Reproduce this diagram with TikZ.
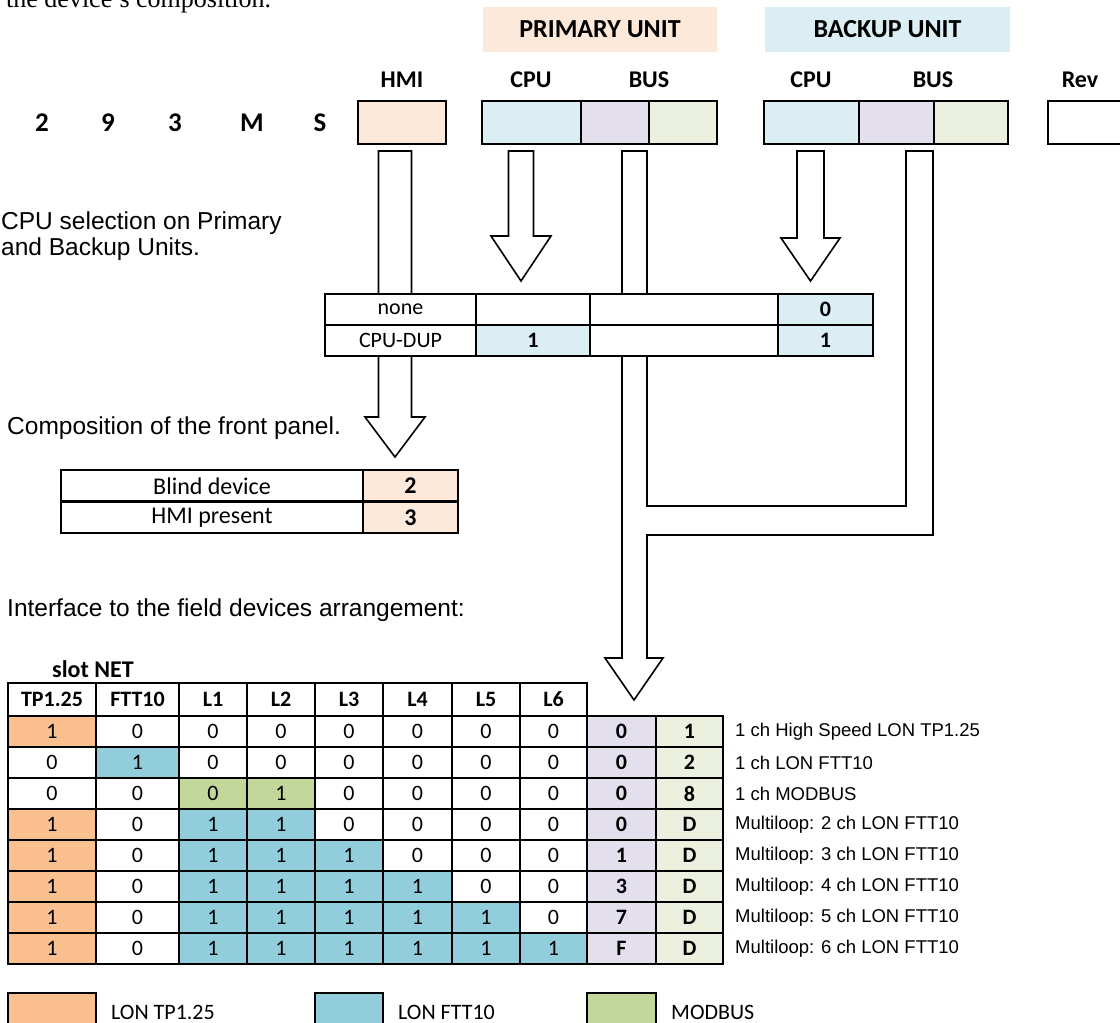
\documentclass[tikz,border=0pt]{standalone}
\usepackage{fontspec}
\setmainfont{Carlito}
\newfontfamily\arialfont{Liberation Sans}
\newfontfamily\timesfont{Liberation Serif}
\usepackage{tikz}
\usetikzlibrary{positioning}
\definecolor{hmipeach}{RGB}{253,233,217}
\definecolor{cpublue}{RGB}{218,238,243}
\definecolor{buslilac}{RGB}{228,223,236}
\definecolor{busgreen}{RGB}{235,241,222}
\definecolor{lontp}{RGB}{250,192,144}
\definecolor{lonftt}{RGB}{146,205,220}
\definecolor{modbus}{RGB}{196,215,155}

\begin{document}
\begin{tikzpicture}[x=1pt, y=-1pt,
  cell/.style={draw, line width=2.7pt, inner sep=0pt, outer sep=0pt, anchor=north west, font=\fontsize{22}{26}\selectfont},
  bigcell/.style={cell, font=\fontsize{24}{28}\selectfont},
  unitbox/.style={inner sep=0pt, minimum height=45, font=\fontsize{26}{30}\selectfont\bfseries},
  collabel/.style={font=\fontsize{24}{28}\selectfont\bfseries},
  codechar/.style={font=\fontsize{27}{32}\selectfont\bfseries},
  note/.style={anchor=west, inner sep=0pt, align=left, font=\arialfont\fontsize{24.5}{26}\selectfont},
  rowlabel/.style={anchor=west, inner sep=0pt, font=\arialfont\fontsize{18.5}{22}\selectfont},
  blockarrow/.style={draw, fill=white, line width=1.6pt, line join=miter}]
\useasboundingbox (0,0) rectangle (1120,1023);

\node[anchor=base west, inner sep=0pt, font=\timesfont\fontsize{26}{30}\selectfont] (intro) at (6,7) {the device’s composition.};

% unit headers
\node[unitbox, fill=hmipeach, minimum width=234] (primary) at (600,29.5) {PRIMARY UNIT};
\node[unitbox, fill=cpublue, minimum width=245] (backup) at (887.5,29.5) {BACKUP UNIT};

\node[collabel] (hmi-lbl) at (402,80) {HMI};
\node[collabel] (pcpu-lbl) at (531,80) {CPU};
\node[collabel] (pbus-lbl) at (649,80) {BUS};
\node[collabel] (bcpu-lbl) at (811,80) {CPU};
\node[collabel] (bbus-lbl) at (933,80) {BUS};
\node[collabel] (rev-lbl) at (1080,80) {Rev};

% code fields
\foreach \ch/\x in {2/42,9/108,3/175,M/252,S/320}
  \node[codechar] (code-\ch) at (\x,123) {\ch};
\node[cell, fill=hmipeach, minimum width=88, minimum height=43] (hmi) at (358,101) {};
\node[cell, fill=cpublue, minimum width=99, minimum height=43] (pcpu) at (482,101) {};
\node[cell, fill=buslilac, minimum width=68, minimum height=43] (pbus1) at (581,101) {};
\node[cell, fill=busgreen, minimum width=68, minimum height=43] (pbus2) at (649,101) {};
\node[cell, fill=cpublue, minimum width=95, minimum height=43] (bcpu) at (764,101) {};
\node[cell, fill=buslilac, minimum width=75, minimum height=43] (bbus1) at (859,101) {};
\node[cell, fill=busgreen, minimum width=74, minimum height=43] (bbus2) at (934,101) {};
\node[cell, minimum width=90, minimum height=43] (rev) at (1048,101) {};

% block arrows
\draw[blockarrow] (378.5,151) -- (411.5,151) -- (411.5,417) -- (425,417) -- (395,457)
  -- (365,417) -- (378.5,417) -- cycle;
\draw[blockarrow] (508.5,151) -- (533.5,151) -- (533.5,236) -- (551,236) -- (521,281)
  -- (491,236) -- (508.5,236) -- cycle;
\draw[blockarrow] (797,151) -- (824,151) -- (824,238) -- (840,238) -- (810.5,281)
  -- (781,238) -- (797,238) -- cycle;
\draw[blockarrow] (622,151) -- (647,151) -- (647,506) -- (906,506) -- (906,151)
  -- (933,151) -- (933,535) -- (647,535) -- (647,658) -- (663,658) -- (634,700)
  -- (605,658) -- (622,658) -- cycle;

% CPU selection
\node[note] (cpu-note) at (1,236) {CPU selection on Primary\\and Backup Units.};
\node[cell, fill=white, minimum width=151, minimum height=31] (cpu-none) at (325,294) {none};
\node[cell, fill=white, minimum width=114, minimum height=31] (cpu-none-p) at (476,294) {};
\node[cell, fill=white, minimum width=188, minimum height=31] (cpu-none-x) at (590,294) {};
\node[cell, fill=cpublue, minimum width=95, minimum height=31] (cpu-none-b) at (778,294) {\bfseries 0};
\node[cell, fill=white, minimum width=151, minimum height=31] (cpu-dup) at (325,325) {CPU-DUP};
\node[cell, fill=cpublue, minimum width=114, minimum height=31] (cpu-dup-p) at (476,325) {\bfseries 1};
\node[cell, fill=white, minimum width=188, minimum height=31] (cpu-dup-x) at (590,325) {};
\node[cell, fill=cpublue, minimum width=95, minimum height=31] (cpu-dup-b) at (778,325) {\bfseries 1};

% front panel
\node[note] (panel-note) at (7,428) {Composition of the front panel.};
\node[bigcell, fill=white, minimum width=302, minimum height=31.5] (blind) at (61,470) {Blind device};
\node[bigcell, fill=hmipeach, minimum width=95, minimum height=31.5] (blind-v) at (363,470) {\bfseries 2};
\node[bigcell, fill=white, minimum width=302, minimum height=31.5] (hmipres) at (61,501.5) {HMI present};
\node[bigcell, fill=hmipeach, minimum width=95, minimum height=31.5] (hmipres-v) at (363,501.5) {\bfseries 3};

% field interfaces
\node[note] (field-note) at (7,610) {Interface to the field devices arrangement:};
\node[font=\fontsize{24}{28}\selectfont\bfseries] (slot-lbl) at (93,669) {slot NET};
\def\slotx{{8,96,179,247,315,383,452,520,587,656,723}}
\foreach \h [count=\k] in {TP1.25,FTT10,L1,L2,L3,L4,L5,L6} {
  \pgfmathsetmacro\xa{\slotx[\k-1]}
  \pgfmathsetmacro\xb{\slotx[\k]}
  \node[cell, minimum width={\xb-\xa}, minimum height=33] (head-\k) at (\xa,683) {\bfseries\h};
}
\foreach \row [count=\r] in {
  {1/lontp,0/white,0/white,0/white,0/white,0/white,0/white,0/white,0/buslilac,1/busgreen},
  {0/white,1/lonftt,0/white,0/white,0/white,0/white,0/white,0/white,0/buslilac,2/busgreen},
  {0/white,0/white,0/modbus,1/modbus,0/white,0/white,0/white,0/white,0/buslilac,8/busgreen},
  {1/lontp,0/white,1/lonftt,1/lonftt,0/white,0/white,0/white,0/white,0/buslilac,D/busgreen},
  {1/lontp,0/white,1/lonftt,1/lonftt,1/lonftt,0/white,0/white,0/white,1/buslilac,D/busgreen},
  {1/lontp,0/white,1/lonftt,1/lonftt,1/lonftt,1/lonftt,0/white,0/white,3/buslilac,D/busgreen},
  {1/lontp,0/white,1/lonftt,1/lonftt,1/lonftt,1/lonftt,1/lonftt,0/white,7/buslilac,D/busgreen},
  {1/lontp,0/white,1/lonftt,1/lonftt,1/lonftt,1/lonftt,1/lonftt,1/lonftt,F/buslilac,D/busgreen}} {
  \foreach \v/\c [count=\k] in \row {
    \pgfmathsetmacro\xa{\slotx[\k-1]}
    \pgfmathsetmacro\xb{\slotx[\k]}
    \node[cell, fill=\c, minimum width={\xb-\xa}, minimum height=31]
      (slot-\r-\k) at (\xa,{716+31*(\r-1)}) {\ifnum\k>8 \bfseries\fi\v};
  }
}
\foreach \t [count=\r] in {1 ch High Speed LON TP1.25, 1 ch LON FTT10, 1 ch MODBUS,
    Multiloop: 2 ch LON FTT10, Multiloop: 3 ch LON FTT10, Multiloop: 4 ch LON FTT10,
    Multiloop: 5 ch LON FTT10, Multiloop: 6 ch LON FTT10}
  \node[rowlabel] (desc-\r) at (735,{731.5+31*(\r-1)}) {\t};

% legend
\foreach \c/\xa/\xb/\t in {lontp/8/96/LON TP1.25, lonftt/315/383/LON FTT10, modbus/587/656/MODBUS} {
  \node[cell, fill=\c, minimum width={\xb-\xa}, minimum height=40] (key-\c) at (\xa,993) {};
  \node[anchor=west, inner sep=0pt, font=\fontsize{22}{26}\selectfont] (key-\c-lbl) at (\xb+15,1012) {\t};
}
\end{tikzpicture}
\end{document}
